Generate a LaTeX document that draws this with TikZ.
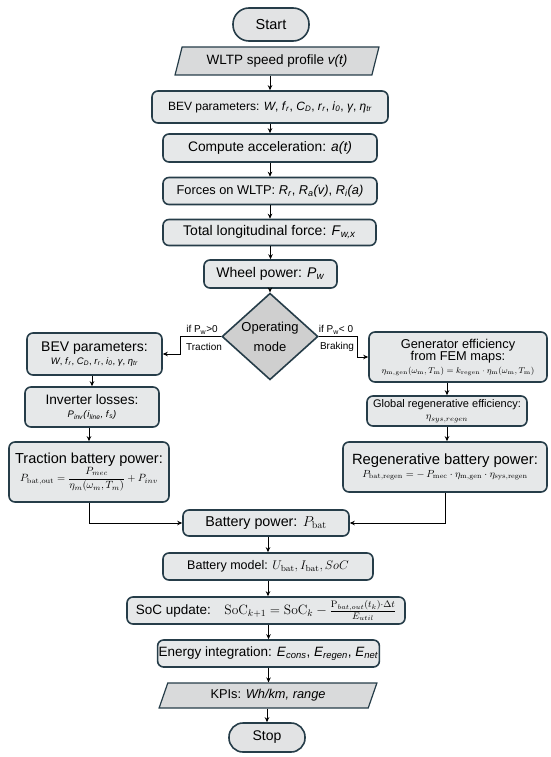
\RequirePackage{fix-cm}
\documentclass[tikz,border=0pt]{standalone}
\usepackage[no-math]{fontspec}
\setmainfont{Liberation Sans}
\usetikzlibrary{shapes.geometric,arrows.meta}
\definecolor{bord}{HTML}{263D49}
\definecolor{boxfill}{HTML}{E6E8E9}
\definecolor{termfill}{HTML}{E2E3E4}
\definecolor{iofill}{HTML}{D9DADB}
\definecolor{decfill}{HTML}{CFCFCF}
\newcommand\fsz[2]{\fontsize{#1}{#2}\selectfont}
\newcommand\vv[2]{\textit{#1}\textsubscript{\textit{#2}}}
\tikzset{
  box/.style={draw=bord, line width=1.6pt, fill=boxfill, rounded corners=6pt, align=center, inner sep=1pt},
  term/.style={draw=bord, line width=1.6pt, fill=termfill, inner sep=1pt},
  io/.style={trapezium, trapezium left angle=70, trapezium right angle=110, trapezium stretches=true, draw=bord, line width=1.2pt, fill=iofill, inner sep=1pt},
  dec/.style={diamond, draw=bord, line width=1.6pt, fill=decfill, align=center, inner sep=0pt},
  arr/.style={-{Stealth[length=5pt,width=4.5pt]}, line width=0.9pt, black},
  lab/.style={font=\fsz{10}{12}, inner sep=0pt}
}
\begin{document}
\begin{tikzpicture}[x=1pt,y=-1pt]
\useasboundingbox (0,0) rectangle (550,757);
% top column
\node[term, rounded corners=16pt, minimum width=76pt, minimum height=33pt, font=\fsz{14.5}{17}] (start) at (271,24.5) {Start};
\node[io, minimum width=204pt, minimum height=28pt, font=\fsz{13.5}{16}] (wltp) at (277,61) {WLTP speed profile \textit{v(t)}};
\node[box, minimum width=236pt, minimum height=32pt, font=\fsz{12}{14}] (bev) at (270,107)
  {BEV parameters: \textit{W}, \vv{f}{r}, \vv{C}{D}, \vv{r}{r}, \vv{i}{0}, \textit{γ}, \vv{η}{tr}};
\node[box, minimum width=214pt, minimum height=28pt, font=\fsz{13.8}{16}] (acc) at (270,148) {Compute acceleration: \textit{a(t)}};
\node[box, minimum width=214pt, minimum height=27pt, font=\fsz{12.8}{15}] (forces) at (270,191)
  {Forces on WLTP: \vv{R}{r}, \vv{R}{a}\textit{(v)}, \vv{R}{i}\textit{(a)}};
\node[box, minimum width=213pt, minimum height=26pt, font=\fsz{14}{16}] (total) at (269.5,232.5) {Total longitudinal force: \vv{F}{w,x}};
\node[box, minimum width=133pt, minimum height=28pt, font=\fsz{14}{16}] (wheel) at (270.5,274) {Wheel power: \vv{P}{w}};
\node[dec, minimum width=96pt, minimum height=73pt, font=\fsz{13}{20}] (mode) at (270,336.5) {Operating\\mode};
% left branch
\node[box, minimum width=135pt, minimum height=42pt] (bevL) at (94.5,354)
  {{\fsz{14}{16}\selectfont BEV parameters:}\\[1pt]{\fsz{9.5}{11}\selectfont \textit{W}, \vv{f}{r}, \vv{C}{D}, \vv{r}{r}, \vv{i}{0}, \textit{γ}, \vv{η}{tr}}};
\node[box, minimum width=134pt, minimum height=40pt] (inv) at (92,407)
  {{\fsz{13.7}{16}\selectfont Inverter losses:}\\[1pt]{\fsz{9.5}{11}\selectfont \vv{P}{inv}\textit{(}\vv{i}{line}\textit{, }\vv{f}{s}\textit{)}}};
\node[box, minimum width=160pt, minimum height=60pt] (trac) at (89,472)
  {{\fsz{14.5}{17}\selectfont Traction battery power:}\\[0pt]{\fsz{10.5}{12}\selectfont $P_{\mathrm{bat,out}}=\displaystyle\frac{P_{mec}}{\eta_m(\omega_m,T_m)}+P_{inv}$}};
% right branch
\node[box, minimum width=178pt, minimum height=50pt] (gen) at (458,357)
  {{\fsz{12.8}{15}\selectfont Generator efficiency}\\{\fsz{12.8}{15}\selectfont from FEM maps:}\\[1pt]{\fsz{8.5}{10}\selectfont $\eta_{\mathrm{m,gen}}(\omega_{\mathrm{m}},T_{\mathrm{m}})=k_{\mathrm{regen}}\cdot\eta_{\mathrm{m}}(\omega_{\mathrm{m}},T_{\mathrm{m}})$}};
\node[box, minimum width=160pt, minimum height=30pt] (glob) at (447,411)
  {{\fsz{11}{13}\selectfont Global regenerative efficiency:}\\[0pt]{\fsz{10.5}{12}\selectfont $\eta_{sys,regen}$}};
\node[box, minimum width=204pt, minimum height=50pt] (regen) at (445,467)
  {{\fsz{14.8}{17}\selectfont Regenerative battery power:}\\[1pt]{\fsz{10.3}{12}\selectfont $P_{\mathrm{bat,regen}}=-\,P_{\mathrm{mec}}\cdot\eta_{\mathrm{m,gen}}\cdot\eta_{\mathrm{sys,regen}}$}};
% bottom column
\node[box, minimum width=166pt, minimum height=26pt, font=\fsz{14.3}{16}] (batp) at (266,523) {Battery power: $P_{\mathrm{bat}}$};
\node[box, minimum width=210pt, minimum height=27pt, font=\fsz{12.5}{14}] (batm) at (268,566.5) {Battery model: $U_{\mathrm{bat}}, I_{\mathrm{bat}}, SoC$};
\node[box, minimum width=278pt, minimum height=27pt, font=\fsz{13.5}{16}] (soc) at (266,610.5)
  {SoC update:\quad $\mathrm{SoC}_{k+1}=\mathrm{SoC}_k-\frac{\mathrm{P}_{bat,out}(t_k)\cdot\Delta t}{E_{util}}$};
\node[box, minimum width=213pt, minimum height=27pt, font=\fsz{13.5}{16}] (energy) at (268.5,653.5)
  {Energy integration: \vv{E}{cons}, \vv{E}{regen}, \vv{E}{net}};
\node[io, minimum width=218pt, minimum height=25pt, font=\fsz{12.8}{15}] (kpi) at (268,695.5) {KPIs: \textit{Wh/km, range}};
\node[term, rounded corners=14pt, minimum width=76pt, minimum height=29pt, font=\fsz{14}{16}] (stop) at (267,737.5) {Stop};
% connectors
\draw[arr] (wltp.south -| bev.north) -- (bev.north);
\draw[arr] (bev.south) -- (acc.north);
\draw[arr] (acc.south) -- (forces.north);
\draw[arr] (forces.south) -- (total.north -| forces.south);
\draw[arr] (total.south -| wheel.north) -- (wheel.north);
\draw[arr] (wheel.south -| mode.north) -- (mode.north);
\coordinate (lk) at (180,336.5);
\coordinate (rk) at (357,336.5);
\draw[arr] (mode.west) -- (lk) |- (bevL.east);
\draw[arr] (mode.east) -- (rk) |- (gen.west);
\node[lab] (lt1) at (202,330) {if P\textsubscript{w}>0};
\node[lab] (lt2) at (204,347) {Traction};
\node[lab] (rt1) at (336,330) {if P\textsubscript{w}< 0};
\node[lab] (rt2) at (337,347) {Braking};
\draw[arr] (bevL.south -| inv.north) -- (inv.north);
\draw[arr] (inv.south -| trac.north) -- (trac.north);
\draw[arr] (glob.north |- gen.south) -- (glob.north);
\draw[arr] (glob.south) -- (glob.south |- regen.north);
\draw[arr] (trac.south) |- (batp.west);
\draw[arr] (regen.south) |- (batp.east);
\draw[arr] (batp.south -| batm.north) -- (batm.north);
\draw[arr] (batm.south) -- (batm.south |- soc.north);
\draw[arr] (soc.south -| energy.north) -- (energy.north);
\draw[arr] (energy.south) -- (energy.south |- kpi.north);
\draw[arr] (kpi.south -| stop.north) -- (stop.north);
\end{tikzpicture}
\end{document}
